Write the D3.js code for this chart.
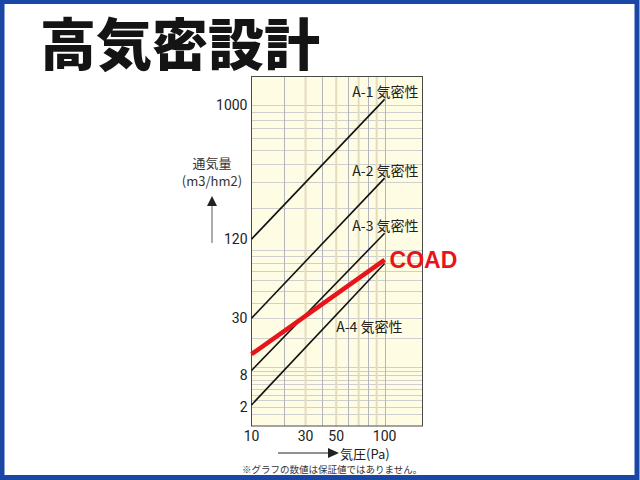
<!DOCTYPE html>
<html>
<head>
<meta charset="utf-8">
<script src="https://cdn.jsdelivr.net/npm/d3@7/dist/d3.min.js"></script>
<style>
  html, body { margin: 0; padding: 0; background: #ffffff; }
  svg { display: block; }
</style>
</head>
<body>
<svg id="chart" width="640" height="480"></svg>
<script>
// ---------- data ----------
const pressures = [10, 100];                       // Pa, start and end of each line
const classNames = ["A-1 気密性", "A-2 気密性", "A-3 気密性", "A-4 気密性"];
const classA1 = [120, 1100];
const classA2 = [30, 320];
const classA3 = [9.2, 132];
const classA4 = [2.3, 80];
const coadName = "COAD";
const coadValues = [14, 85];
const yTickValues = [2, 8, 30, 120, 1000];
const xTickValues = [10, 30, 50, 100];
const yGridValues = [1,2,3,4,5,6,7,8,9,10,20,30,40,50,60,70,80,90,100,200,300,400,500,600,700,800,900,1000];
const xGridDark = [20, 40, 60, 80, 100];
const xGridLight = [30, 50, 70, 90];
const titleText = "高気密設計";
const yTitle = ["通気量", "(m3/hm2)"];
const xTitle = "気圧(Pa)";
const footnote = "※グラフの数値は保証値ではありません。";

// ---------- layout ----------
const W = 640, H = 480;
const plot = { left: 251.5, top: 76.5, right: 422.5, bottom: 426 };
const jp = "'Noto Sans CJK JP', 'Noto Sans', sans-serif";
const num = "Roboto, 'Noto Sans', sans-serif";

const svg = d3.select("#chart");

// slide frame
svg.append("rect").attr("x", 0).attr("y", 0).attr("width", W).attr("height", H).attr("fill", "#ffffff");
svg.append("rect").attr("x", 2).attr("y", 1.5).attr("width", W - 5).attr("height", H - 4)
  .attr("fill", "none").attr("stroke", "#1a46a6").attr("stroke-width", 5);

// title
svg.append("text").attr("x", 40).attr("y", 40)
  .attr("dominant-baseline", "central")
  .attr("font-family", jp).attr("font-weight", 900).attr("font-size", 56)
  .attr("fill", "#141414").text(titleText);

// scales
const x = d3.scalePow().exponent(0.25).domain([10, 160]).range([plot.left, plot.right]);
const y = d3.scaleSymlog().constant(7.5).domain([-0.45, 1570]).range([plot.bottom, plot.top]);

// plot background
svg.append("rect").attr("x", plot.left).attr("y", plot.top)
  .attr("width", plot.right - plot.left).attr("height", plot.bottom - plot.top)
  .attr("fill", "#fefce3");

const grid = svg.append("g");
grid.selectAll("line.hy").data(yGridValues).join("line")
  .attr("x1", plot.left).attr("x2", plot.right)
  .attr("y1", d => Math.round(y(d)) + 0.5).attr("y2", d => Math.round(y(d)) + 0.5)
  .attr("stroke", "#cfcfcf").attr("stroke-width", 1);
grid.selectAll("line.vl").data(xGridLight).join("line")
  .attr("x1", d => x(d)).attr("x2", d => x(d))
  .attr("y1", plot.top).attr("y2", plot.bottom)
  .attr("stroke", "#e4dcbf").attr("stroke-width", 2);
grid.selectAll("line.vd").data(xGridDark).join("line")
  .attr("x1", d => Math.round(x(d)) + 0.5).attr("x2", d => Math.round(x(d)) + 0.5)
  .attr("y1", plot.top).attr("y2", plot.bottom)
  .attr("stroke", "#b4b4bc").attr("stroke-width", 1);

// border
svg.append("rect").attr("x", plot.left).attr("y", plot.top)
  .attr("width", plot.right - plot.left).attr("height", plot.bottom - plot.top)
  .attr("fill", "none").attr("stroke", "#4a4a4a").attr("stroke-width", 1);

// class lines
const line = d3.line().x(d => x(d[0])).y(d => y(d[1]));
const classSeries = [classA1, classA2, classA3, classA4];
svg.append("g").selectAll("path").data(classSeries).join("path")
  .attr("d", s => line(pressures.map((p, i) => [p, s[i]])))
  .attr("fill", "none").attr("stroke", "#111").attr("stroke-width", 1.6);

// COAD line
svg.append("path")
  .attr("d", line(pressures.map((p, i) => [p, coadValues[i]])))
  .attr("fill", "none").attr("stroke", "#e8141c").attr("stroke-width", 4.5);

// class labels
classSeries.forEach((s, i) => {
  const endX = x(pressures[1]), endY = y(s[1]);
  let tx, ty, anchor;
  if (i < 3) { tx = endX + 34; ty = endY - 8; anchor = "end"; }
  else { tx = x(50); ty = y(s[1]) + 63; anchor = "start"; }
  svg.append("text").attr("x", tx).attr("y", ty)
    .attr("text-anchor", anchor).attr("dominant-baseline", "central")
    .attr("font-family", jp).attr("font-size", 14).attr("fill", "#222")
    .text(classNames[i]);
});

// COAD label
svg.append("text").attr("x", x(pressures[1]) + 5).attr("y", y(coadValues[1]))
  .attr("dominant-baseline", "central")
  .attr("font-family", "'Liberation Sans', Arial, sans-serif").attr("font-weight", 700)
  .attr("font-size", 23).attr("fill", "#e8141c").text(coadName);

// y tick labels
svg.append("g").selectAll("text").data(yTickValues).join("text")
  .attr("x", plot.left - 4).attr("y", d => y(d))
  .attr("text-anchor", "end").attr("dominant-baseline", "central")
  .attr("font-family", num).attr("font-size", 14).attr("fill", "#222")
  .text(d => d);

// x tick labels
svg.append("g").selectAll("text").data(xTickValues).join("text")
  .attr("x", d => x(d)).attr("y", plot.bottom + 9.5)
  .attr("text-anchor", "middle").attr("dominant-baseline", "central")
  .attr("font-family", num).attr("font-size", 14).attr("fill", "#222")
  .text(d => d);

// y title and arrow
svg.append("g").selectAll("text").data(yTitle).join("text")
  .attr("x", 212).attr("y", (d, i) => 162 + i * 18)
  .attr("text-anchor", "middle").attr("dominant-baseline", "central")
  .attr("font-family", jp).attr("font-size", 13).attr("fill", "#333")
  .text(d => d);
svg.append("line").attr("x1", 212).attr("x2", 212).attr("y1", 243).attr("y2", 204)
  .attr("stroke", "#777").attr("stroke-width", 1.2);
svg.append("path").attr("d", "M207,206 L212,196 L217,206 Z").attr("fill", "#222");

// x title and arrow
svg.append("line").attr("x1", 278).attr("x2", 330).attr("y1", 453).attr("y2", 453)
  .attr("stroke", "#222").attr("stroke-width", 1.2);
svg.append("path").attr("d", "M328,448 L339,453 L328,458 Z").attr("fill", "#222");
svg.append("text").attr("x", 340).attr("y", 453)
  .attr("dominant-baseline", "central")
  .attr("font-family", jp).attr("font-size", 13).attr("fill", "#222").text(xTitle);

// footnote
svg.append("text").attr("x", 242).attr("y", 469)
  .attr("dominant-baseline", "central")
  .attr("font-family", jp).attr("font-size", 9.5).attr("fill", "#333").text(footnote);
</script>
</body>
</html>
